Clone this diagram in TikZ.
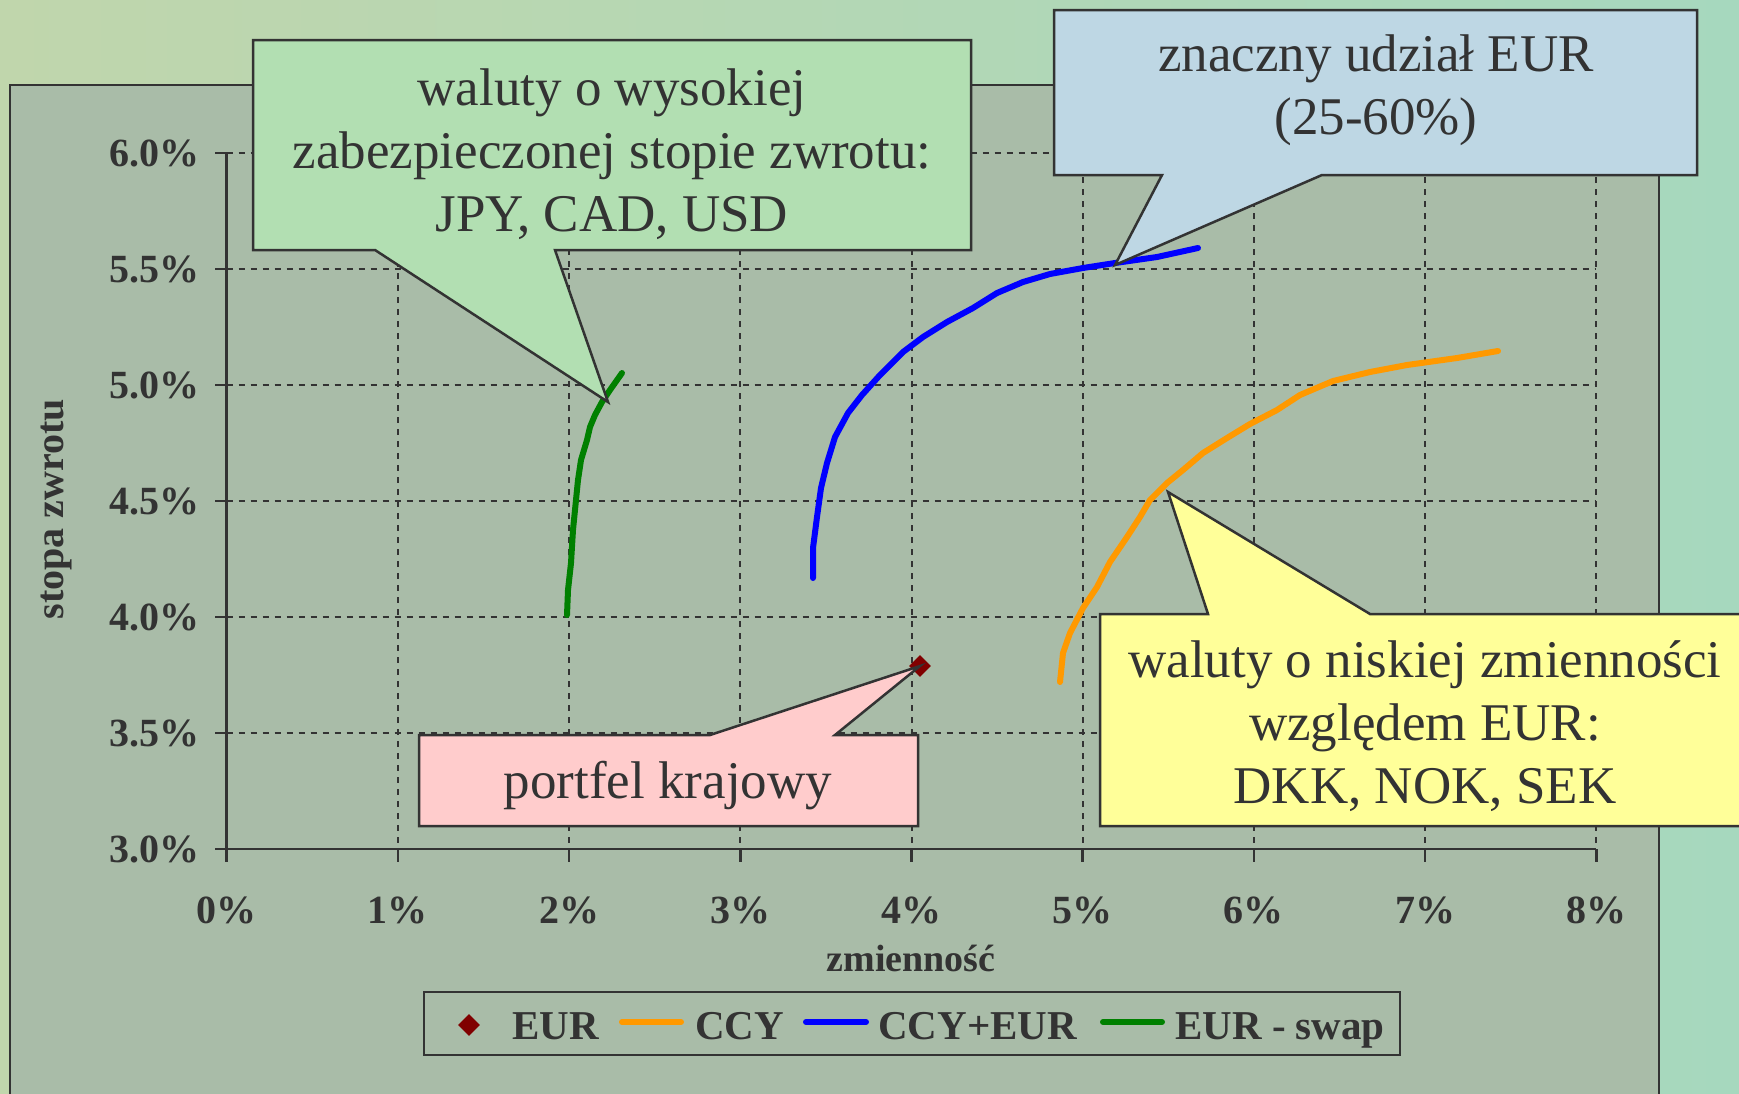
\documentclass[tikz,border=0pt]{standalone}
\usepackage{fontspec}
\setmainfont{Liberation Serif}
\usetikzlibrary{shapes.geometric}
\definecolor{ink}{HTML}{333333}
\definecolor{chartbg}{RGB}{169,188,168}
\definecolor{cgreen}{RGB}{178,223,178}
\definecolor{cblue}{RGB}{190,215,228}
\definecolor{cyellow}{RGB}{255,255,153}
\definecolor{cpink}{RGB}{255,204,204}
\definecolor{lorange}{RGB}{255,153,0}
\definecolor{lblue}{RGB}{0,0,255}
\definecolor{lgreen}{RGB}{0,128,0}
\definecolor{eurred}{RGB}{128,0,0}
\definecolor{bgA}{RGB}{192,214,172}
\definecolor{bgB}{RGB}{166,216,190}
\begin{document}
\begin{tikzpicture}[x=1pt,y=-1pt,
  gridline/.style={ink, line width=2pt, dash pattern=on 6pt off 6pt},
  axisline/.style={ink, line width=2.5pt},
  tickl/.style={font=\fontsize{40}{40}\selectfont\bfseries, text=ink, inner sep=0pt},
  callout/.style={draw=ink, line width=2.5pt, line join=miter},
  ctext/.style={font=\fontsize{53}{63}\selectfont, text=ink, align=center, inner sep=0pt},
  curve/.style={line width=6pt, line cap=round, line join=round},
  legtext/.style={font=\fontsize{41}{41}\selectfont\bfseries, text=ink, inner sep=0pt, anchor=base west},
  legline/.style={line width=6pt, line cap=round},
  eurmark/.style={diamond, fill=eurred, inner sep=0pt, minimum width=22pt, minimum height=22pt},
]
\useasboundingbox (0,0) rectangle (1739,1093);
\clip (0,0) rectangle (1739,1093);
% background
\fill[left color=bgA, right color=bgB] (0,0) rectangle (1739,1093);
% chart box
\draw[ink, line width=2.5pt, fill=chartbg] (10,85) rectangle (1659,1110);
% grid
\foreach \v in {1,...,8} \draw[gridline] ({226.7+171.2*\v},153) -- ({226.7+171.2*\v},849);
\foreach \r in {1,...,6} \draw[gridline] (226.7,{849-116*\r}) -- (1596.3,{849-116*\r});
% axes
\draw[axisline] (226.7,153) -- (226.7,849) -- (1596.3,849);
\foreach \r/\lab in {0/3.0,1/3.5,2/4.0,3/4.5,4/5.0,5/5.5,6/6.0}{
  \draw[axisline] (215,{849-116*\r}) -- (226.7,{849-116*\r});
  \node[tickl, anchor=base east] (yl\r) at (200,{849-116*\r+13.5}) {\lab\%};
}
\foreach \v in {0,...,8}{
  \draw[axisline] ({226.7+171.2*\v},849) -- ({226.7+171.2*\v},862);
  \node[tickl, anchor=base] (xl\v) at ({226.7+171.2*\v},923) {\v\%};
}
\node[font=\fontsize{38}{38}\selectfont\bfseries, text=ink, inner sep=0pt, anchor=base] (xtitle) at (911,971) {zmienność};
\node[font=\fontsize{40}{40}\selectfont\bfseries, text=ink, inner sep=0pt, anchor=base, rotate=90] (ytitle) at (63,509) {stopa zwrotu};
% curves
\draw[curve, lgreen] (567,615) -- (568,590) -- (571,563) -- (573,530) -- (576,500) -- (578,480) -- (581,460) -- (587,440) -- (590,427) -- (595,415) -- (602,402) -- (610,390) -- (622,373);
\draw[curve, lblue] (813,578) -- (813,548) -- (817,517) -- (821,488) -- (827,463) -- (835,437) -- (848,413) -- (862,395) -- (880,375) -- (903,352) -- (923,337) -- (947,322) -- (973,308) -- (997,293) -- (1023,282) -- (1050,274) -- (1083,268) -- (1115,263) -- (1157,257) -- (1198,248);
\draw[curve, lorange] (1060,682) -- (1063,653) -- (1070,633) -- (1083,608) -- (1097,587) -- (1110,562) -- (1127,537) -- (1140,517) -- (1150,500) -- (1167,483) -- (1183,470) -- (1203,453) -- (1227,438) -- (1250,424) -- (1277,410) -- (1300,395) -- (1333,381) -- (1370,372) -- (1407,365) -- (1457,358) -- (1498,351);
\node[eurmark] (eur) at (920,666) {};
% callout tips
\coordinate (tipG) at (608,402);
\coordinate (tipB) at (1115,265);
\coordinate (tipY) at (1168,492);
% callouts
\draw[callout, fill=cgreen] (253,40) -- (971,40) -- (971,250) -- (555,250) -- (tipG) -- (375,250) -- (253,250) -- cycle;
\node[ctext] (tG) at (612,154) {waluty o wysokiej\\zabezpieczonej stopie zwrotu:\\JPY, CAD, USD};
\draw[callout, fill=cblue] (1054,10) -- (1697,10) -- (1697,175) -- (1322,175) -- (tipB) -- (1162,175) -- (1054,175) -- cycle;
\node[ctext] (tB) at (1376,90) {znaczny udział EUR\\(25-60\%)};
\draw[callout, fill=cyellow] (1100,614) -- (1208,614) -- (tipY) -- (1370,614) -- (1750,614) -- (1750,826) -- (1100,826) -- cycle;
\node[ctext] (tY) at (1425,726) {waluty o niskiej zmienności\\względem EUR:\\DKK, NOK, SEK};
\draw[callout, fill=cpink] (419,735) -- (710,735) -- (eur.center) -- (835,735) -- (918,735) -- (918,826) -- (419,826) -- cycle;
\node[ctext, anchor=base] (tP) at (668,798) {portfel krajowy};
% legend
\draw[ink, line width=2pt] (424,992) rectangle (1400,1055);
\node[eurmark] (legeur) at (469,1025) {};
\node[legtext] (legEUR) at (512,1039) {EUR};
\draw[legline, lorange] (622,1022) -- (681,1022);
\node[legtext] (legCCY) at (695,1039) {CCY};
\draw[legline, lblue] (806,1022) -- (866,1022);
\node[legtext] (legCE) at (878,1039) {CCY+EUR};
\draw[legline, lgreen] (1103,1022) -- (1162,1022);
\node[legtext] (legSW) at (1175,1039) {EUR - swap};
\end{tikzpicture}
\end{document}
